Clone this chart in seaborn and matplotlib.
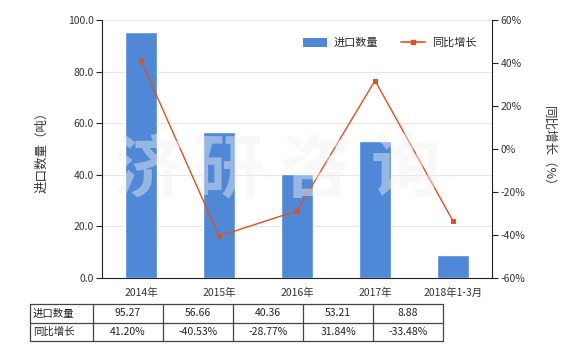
import matplotlib
matplotlib.use("Agg")
import matplotlib.pyplot as plt
import seaborn as sns
import pandas as pd
from matplotlib.lines import Line2D
from matplotlib.patches import Patch

categories = ["2014年", "2015年", "2016年", "2017年", "2018年1-3月"]
quantity = [95.27, 56.66, 40.36, 53.21, 8.88]
growth = [41.20, -40.53, -28.77, 31.84, -33.48]
quantity_labels = ["95.27", "56.66", "40.36", "53.21", "8.88"]
growth_labels = ["41.20%", "-40.53%", "-28.77%", "31.84%", "-33.48%"]

sns.set_theme(style="white")
plt.rcParams['font.family'] = ['Noto Sans CJK SC', 'DejaVu Sans']
plt.rcParams['axes.unicode_minus'] = False

W, H = 580, 350
fig = plt.figure(figsize=(W / 100, H / 100), dpi=100)
def fx(px): return px / W
def fy(py): return 1 - py / H

ax = fig.add_axes([fx(102), fy(278), fx(492) - fx(102), fy(20) - fy(278)])
df = pd.DataFrame({"cat": categories, "q": quantity, "g": growth})

bar_color = "#4f88d7"
line_color = "#e0511f"

sns.barplot(data=df, x="cat", y="q", ax=ax, color=bar_color, width=0.4, saturation=1, zorder=2)
ax.set_xlim(-0.5, 4.5)
ax.set_ylim(0, 100)
ax.set_yticks([0, 20, 40, 60, 80, 100])
ax.set_yticklabels([f"{v:.1f}" for v in [0, 20, 40, 60, 80, 100]])
ax.yaxis.grid(True, color="#e6e6e6", linewidth=0.8, zorder=0)
ax.set_axisbelow(True)
ax.set_xlabel("")
ax.set_ylabel("进口数量（吨）", fontsize=9, color="#333333", labelpad=14)
for s in ["top", "right"]:
    ax.spines[s].set_visible(False)
ax.spines["left"].set_color("#222222")
ax.spines["bottom"].set_color("#222222")
ax.spines["left"].set_linewidth(0.8)
ax.spines["bottom"].set_linewidth(0.8)
ax.tick_params(axis="y", which="both", left=True, length=4, width=0.8, color="#222222", labelsize=7.5, labelcolor="#333333", pad=2)
ax.tick_params(axis="x", bottom=False, labelsize=7.5, labelcolor="#333333", pad=1)

ax2 = ax.twinx()
sns.pointplot(data=df, x="cat", y="g", ax=ax2, color=line_color, markers="s",
              markersize=3.5, linewidth=1.0, zorder=3)
ax2.set_xlim(-0.5, 4.5)
ax2.set_ylim(-60, 60)
ax2.set_yticks([-60, -40, -20, 0, 20, 40, 60])
ax2.set_yticklabels([f"{v}%" for v in [-60, -40, -20, 0, 20, 40, 60]])
ax2.set_xlabel("")
ax2.set_ylabel("同比增长（%）", fontsize=9, color="#333333", rotation=270, labelpad=22)
for s in ["top", "left", "bottom"]:
    ax2.spines[s].set_visible(False)
ax2.spines["right"].set_color("#222222")
ax2.spines["right"].set_linewidth(0.8)
ax2.tick_params(axis="y", right=True, length=4, width=0.8, color="#222222", labelsize=7.5, labelcolor="#333333", pad=2)

# watermark
for ch, px in zip("济研咨询", [148, 228, 315, 405]):
    fig.text(fx(px), fy(172), ch, fontsize=50, color="#f0f0f0", alpha=0.45,
             ha="center", va="center", fontweight="bold", zorder=10)

# legend
handles = [Patch(facecolor=bar_color, edgecolor="none"),
           Line2D([0], [0], color=line_color, marker="s", markersize=3.5, linewidth=1.2)]
ax2.legend(handles, ["进口数量", "同比增长"], loc="upper right", bbox_to_anchor=(0.985, 0.97),
           ncol=2, frameon=False, fontsize=8, handlelength=2.2, handleheight=0.9,
           columnspacing=2.0, handletextpad=0.6)

# table
tx0, tx1 = 30, 443
ty0, ty1, ty2 = 304, 323, 341
col_edges = [30, 93, 163, 233, 303, 373, 443]
lc = "#444444"
for y in [ty0, ty1, ty2]:
    fig.add_artist(Line2D([fx(tx0), fx(tx1)], [fy(y), fy(y)], color=lc, linewidth=0.9))
for x in col_edges:
    fig.add_artist(Line2D([fx(x), fx(x)], [fy(ty0), fy(ty2)], color=lc, linewidth=0.9))
rows = [("进口数量", quantity_labels), ("同比增长", growth_labels)]
for r, (name, vals) in enumerate(rows):
    yc = (ty0 + ty1) / 2 if r == 0 else (ty1 + ty2) / 2
    fig.text(fx(33), fy(yc), name, fontsize=7.5, color="#222222", ha="left", va="center")
    for i, v in enumerate(vals):
        xc = (col_edges[i + 1] + col_edges[i + 2]) / 2
        fig.text(fx(xc), fy(yc), v, fontsize=7.5, color="#222222", ha="center", va="center")

fig.savefig("out.png", dpi=100)
